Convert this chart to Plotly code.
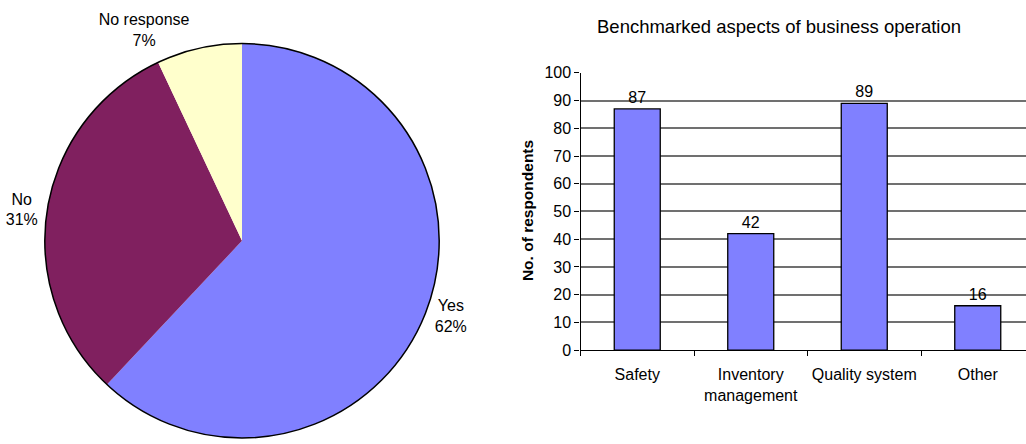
import plotly.graph_objects as go

# Pie data
pie_labels = ["Yes", "No", "No response"]
pie_values = [62, 31, 7]
pie_colors = ["#8080FF", "#80205F", "#FFFFCC"]

# Bar data
bar_title = "Benchmarked aspects of business operation"
bar_categories = ["Safety", "Inventory<br>management", "Quality system", "Other"]
bar_values = [87, 42, 89, 16]
y_title = "No. of respondents"

W, H = 1026, 444
FONT = "Liberation Sans, Arial, sans-serif"

def px_x(p):
    return p / W

def px_y(p):
    return 1 - p / H

pie_domain = dict(x=[px_x(44), px_x(440)], y=[px_y(442), px_y(44)])

fig = go.Figure()

fig.add_trace(go.Pie(
    labels=pie_labels,
    values=pie_values,
    marker=dict(colors=pie_colors, line=dict(width=0)),
    sort=False,
    direction="clockwise",
    rotation=0,
    textposition="outside",
    texttemplate="%{label}<br>%{percent:.0%}",
    outsidetextfont=dict(family=FONT, size=16, color="black"),
    domain=pie_domain,
    showlegend=False,
    hoverinfo="skip",
))
# outer circle outline only (no radial edges)
fig.add_trace(go.Pie(
    labels=["outline"],
    values=[sum(pie_values)],
    marker=dict(colors=["rgba(0,0,0,0)"], line=dict(width=1.5, color="black")),
    textinfo="none",
    domain=pie_domain,
    showlegend=False,
    hoverinfo="skip",
))

fig.add_trace(go.Bar(
    x=bar_categories,
    y=bar_values,
    marker=dict(color="#8080FF", line=dict(color="black", width=1.3)),
    texttemplate="%{y}",
    textposition="outside",
    textfont=dict(family=FONT, size=16, color="black"),
    cliponaxis=False,
    showlegend=False,
    hoverinfo="skip",
    xaxis="x",
    yaxis="y",
))

cat_px = 113.5
left_px = 580.5
right_range = -0.5 + (W - left_px) / cat_px

fig.update_layout(
    width=W, height=H,
    margin=dict(l=0, r=0, t=0, b=0),
    paper_bgcolor="white",
    plot_bgcolor="white",
    font=dict(family=FONT, size=16, color="black"),
    bargap=1 - 46 / cat_px,
    xaxis=dict(
        domain=[px_x(left_px), 1.0],
        range=[-0.5, right_range],
        type="category",
        showgrid=False,
        showline=True, linecolor="black", linewidth=1.3,
        ticks="outside", ticklen=5, tickcolor="black", tickwidth=1.3,
        tickson="boundaries",
        tickangle=0,
        ticklabelstandoff=10,
        tickfont=dict(family=FONT, size=16, color="black"),
        automargin=False,
        fixedrange=True,
    ),
    yaxis=dict(
        domain=[px_y(353.3), px_y(73.5)],
        range=[0, 100],
        dtick=10,
        showgrid=True, gridcolor="#707070", gridwidth=1.5,
        showline=True, linecolor="black", linewidth=1.3,
        zeroline=True, zerolinecolor="black", zerolinewidth=1.3,
        ticks="outside", ticklen=5, tickcolor="black", tickwidth=1.3,
        tickfont=dict(family=FONT, size=16, color="black"),
        automargin=False,
        fixedrange=True,
    ),
    annotations=[
        dict(text=bar_title, x=px_x(779), y=px_y(27), xref="paper", yref="paper",
             xanchor="center", yanchor="middle", showarrow=False,
             font=dict(family=FONT, size=18.5, color="black")),
        dict(text="<b>" + y_title + "</b>", x=px_x(527), y=px_y(213), xref="paper", yref="paper",
             xanchor="center", yanchor="middle", showarrow=False, textangle=-90,
             font=dict(family=FONT, size=15.5, color="black")),
    ],
)

fig.write_html(
    "out.html",
    config={"displayModeBar": False},
    post_script="document.body.style.margin='0';document.body.style.overflow='hidden';",
)
